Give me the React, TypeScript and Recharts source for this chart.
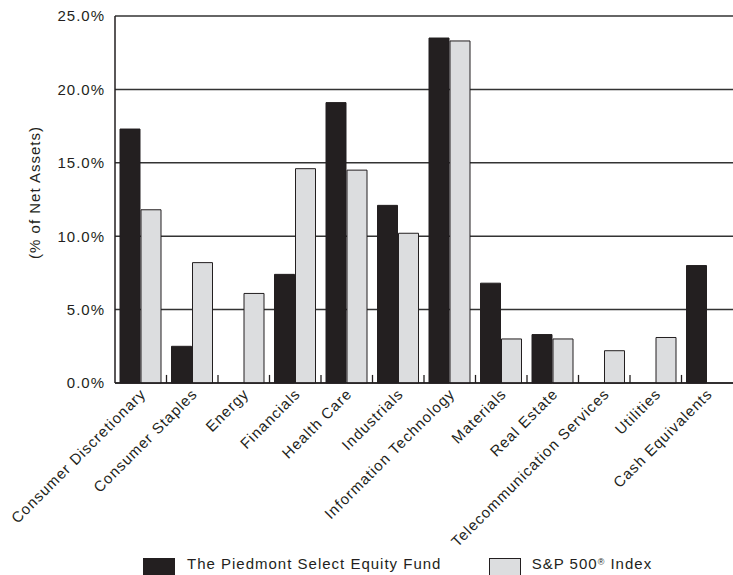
import React from 'react';
import { BarChart, Bar, XAxis, YAxis, CartesianGrid, Legend, ReferenceLine } from 'recharts';

const sectors = [
    'Consumer Discretionary',
    'Consumer Staples',
    'Energy',
    'Financials',
    'Health Care',
    'Industrials',
    'Information Technology',
    'Materials',
    'Real Estate',
    'Telecommunication Services',
    'Utilities',
    'Cash Equivalents',
];

const fundValues = [17.3, 2.5, 0, 7.4, 19.1, 12.1, 23.5, 6.8, 3.3, 0, 0, 8.0];
const indexValues = [11.8, 8.2, 6.1, 14.6, 14.5, 10.2, 23.3, 3.0, 3.0, 2.2, 3.1, 0];

const yTicks = [0, 5, 10, 15, 20, 25];

const FUND_NAME = 'The Piedmont Select Equity Fund';
const INDEX_NAME = 'S&P 500® Index';

const INK = '#231f20';
const LIGHT = '#dcdddf';
const FONT = '"Liberation Sans", Arial, sans-serif';
const SPACING = '1px';
// length of the small inward ticks between categories, in axis units (about 8px)
const TICK_LEN = 0.55;

const chartData = sectors.map((sector, i) => ({
    sector,
    fund: fundValues[i],
    index: indexValues[i],
}));

const formatPct = (v: number) => `${v.toFixed(1)}%`;

const SectorTick = (props: any) => {
    const { x, y, payload } = props;
    return (
        <text
            transform={`translate(${x + 6},${y + 4}) rotate(-45)`}
            textAnchor="end"
            fill={INK}
            fontSize={15}
            fontFamily={FONT}
            letterSpacing={SPACING}
        >
            {payload.value}
        </text>
    );
};

const YTitle = (props: any) => {
    const { viewBox } = props;
    const cy = viewBox.y + viewBox.height / 2 - 7;
    return (
        <text
            transform={`translate(40,${cy}) rotate(-90)`}
            textAnchor="middle"
            fill={INK}
            fontSize={15}
            fontFamily={FONT}
            letterSpacing={SPACING}
        >
            (% of Net Assets)
        </text>
    );
};

const legendBoxes: Record<string, { left: number; textLeft: number; fill: string }> = {
    [FUND_NAME]: { left: 142.7, textLeft: 187, fill: INK },
    [INDEX_NAME]: { left: 489, textLeft: 531.7, fill: LIGHT },
};

const renderLegend = (props: any) => {
    const items = props.payload || [];
    return (
        <div style={{ position: 'relative', width: 733, height: 20, fontFamily: FONT, fontSize: 15, color: INK, letterSpacing: SPACING }}>
            {items.map((item: any) => {
                const box = legendBoxes[item.value];
                if (!box) return null;
                const label = item.value === INDEX_NAME
                    ? <>S&amp;P 500<sup style={{ fontSize: 9, verticalAlign: 'top', lineHeight: '12px' }}>®</sup> Index</>
                    : item.value;
                return (
                    <React.Fragment key={item.value}>
                        <div style={{
                            position: 'absolute', left: box.left, top: 2.5, width: 32.3, height: 18,
                            background: box.fill, border: `1px solid ${INK}`, boxSizing: 'border-box',
                        }} />
                        <span style={{ position: 'absolute', left: box.textLeft, top: 1, lineHeight: '16px', whiteSpace: 'nowrap' }}>
                            {label}
                        </span>
                    </React.Fragment>
                );
            })}
        </div>
    );
};

export default function App() {
    return (
        <div style={{ position: 'absolute', left: 0, top: 0, width: 733, height: 575, background: '#fff' }}>
            <BarChart
                width={733}
                height={575}
                data={chartData}
                margin={{ top: 16, right: 0, left: 0, bottom: 0 }}
                barCategoryGap={5}
                barGap={1}
            >
                <CartesianGrid vertical={false} stroke="#333" strokeWidth={1.5} />
                <XAxis
                    dataKey="sector"
                    interval={0}
                    height={172}
                    tickLine={false}
                    axisLine={{ stroke: INK, strokeWidth: 1.5 }}
                    tick={<SectorTick />}
                />
                <YAxis
                    width={115}
                    domain={[0, 25]}
                    ticks={yTicks}
                    tickFormatter={formatPct}
                    tickLine={false}
                    tickMargin={4}
                    axisLine={{ stroke: INK, strokeWidth: 1.5 }}
                    tick={{ fill: INK, fontSize: 15, fontFamily: FONT, letterSpacing: SPACING }}
                    label={<YTitle />}
                />
                <Legend
                    verticalAlign="bottom"
                    content={renderLegend}
                    wrapperStyle={{ left: 0, width: 733, height: 20 }}
                />
                <Bar dataKey="fund" name={FUND_NAME} fill={INK} stroke={INK} strokeWidth={1} isAnimationActive={false} />
                <Bar dataKey="index" name={INDEX_NAME} fill={LIGHT} stroke={INK} strokeWidth={1} isAnimationActive={false} />
                {sectors.slice(0, -1).map(s => (
                    <ReferenceLine
                        key={s}
                        position="end"
                        segment={[{ x: s, y: 0 }, { x: s, y: TICK_LEN }]}
                        stroke={INK}
                        strokeWidth={1.3}
                    />
                ))}
            </BarChart>
        </div>
    );
}
